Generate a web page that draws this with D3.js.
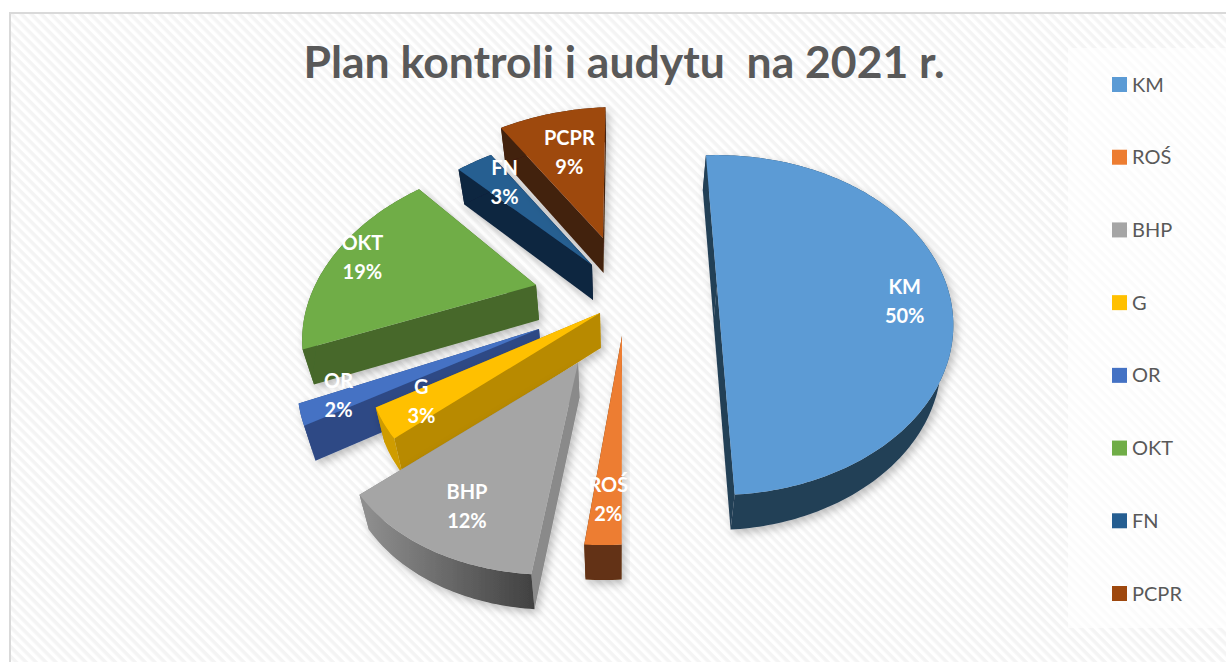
<!DOCTYPE html>
<html lang="pl">
<head>
<meta charset="utf-8">
<title>Plan kontroli i audytu na 2021 r.</title>
<script src="https://cdn.jsdelivr.net/npm/d3@7"></script>
<style>
html,body{margin:0;padding:0;background:#fff;overflow:hidden}
svg{display:block}
text{font-family:Lato,"Open Sans",sans-serif}
</style>
</head>
<body>
<div id="chart"></div>
<script>
// ---- data ----
const categories = ["KM","ROŚ","BHP","G","OR","OKT","FN","PCPR"];
const shares = [50,2,12,3,2,19,3,9];
const chartTitle = "Plan kontroli i audytu  na 2021 r.";

// ---- styling ----
const topColors  = ["#5b9bd5","#ed7d31","#a5a5a5","#ffc000","#4472c4","#70ad47","#255e91","#9e480e"];
const edgeColors = ["#243f56","#643314","#8a8a8a","#b88a00","#2f4a85","#46682b","#10253f","#42200a"];
const rimColors  = ["#243f56","#643314","url(#bhpRim)","#cf9c00","#2f4a85","#46682b","#10253f","#42200a"];

// ---- layout: how each slice is pulled out of the pie (px from pie centre) ----
const pullX = [92,-3,-47,-25,-86,-89,-33,-22];
const pullY = [6,56,83,33,49,5,-15,-42];
const sliceScale = [1,1,1.01,0.97,0.99,0.96,1,1];
const sliceTurn = [0,0,0,0,0,2.5,0,0];
const labelReach = [0.80,0.77,0.72,0.80,0.95,0.75,0.95,0.75];
const labelNudgeX = [6,0,-12,-5,27,-11,25,6];
const labelNudgeY = [24,13,21,0,-15,-8,17,13];
const drawOrder = [6,7,5,4,3,2,1,0];

const W = 1226, H = 662;
const pieCx = 625, pieCy = 280;
const radiusX = 230, radiusY = 161, perspective = 0.23;
const vanishX = 717, skew = 0.146;
const depth = 35, depthSkew = 0.036, depthOriginX = 620;
const startDeg = -3.4;

const svg = d3.select("#chart").append("svg").attr("width",W).attr("height",H);
const defs = svg.append("defs");

const hatch = defs.append("pattern").attr("id","hatch").attr("width",7).attr("height",7)
  .attr("patternUnits","userSpaceOnUse").attr("patternTransform","rotate(45)");
hatch.append("rect").attr("width",7).attr("height",7).attr("fill","#fff");
hatch.append("rect").attr("width",7).attr("height",3.5).attr("fill","#f4f4f4");

const rimGrad = defs.append("linearGradient").attr("id","bhpRim").attr("gradientUnits","userSpaceOnUse")
  .attr("x1",367).attr("x2",536).attr("y1",0).attr("y2",0);
rimGrad.append("stop").attr("offset",0).attr("stop-color","#8e8e8e");
rimGrad.append("stop").attr("offset",1).attr("stop-color","#404040");

const shadow = defs.append("filter").attr("id","soft").attr("x","-20%").attr("y","-20%").attr("width","140%").attr("height","140%");
shadow.append("feDropShadow").attr("dx",3).attr("dy",4).attr("stdDeviation",4)
  .attr("flood-color","#000").attr("flood-opacity",0.25);

// chart frame
svg.append("rect").attr("x",10).attr("y",13).attr("width",W).attr("height",H)
  .attr("fill","url(#hatch)").attr("stroke","#d9d9d9").attr("stroke-width",2);

// title
svg.append("text").attr("x",624).attr("y",78).attr("text-anchor","middle")
  .attr("font-size",44.5).attr("font-weight",700).attr("fill","#595959")
  .attr("xml:space","preserve").style("white-space","pre").text(chartTitle);

// pie geometry through d3.pie
const pie = d3.pie().sort(null)
  .startAngle(startDeg*Math.PI/180).endAngle((startDeg+360)*Math.PI/180);
const arcs = pie(shares);

const project = (i,theta,reach=1) => {
  const ax = pieCx+pullX[i], ay = pieCy+pullY[i];
  const u = Math.sin(theta)*reach, v = Math.cos(theta)*reach, w = 1+perspective*v;
  return [ax + radiusX*u/w + skew*(ax-vanishX)*(-v)/w, ay - radiusY*v/w];
};
const drop = p => [p[0]+(depthOriginX-p[0])*depthSkew, p[1]+depth];
const line = d3.line();

const slices = drawOrder.map(i => {
  const a = arcs[i];
  const steps = Math.max(4,Math.round((a.endAngle-a.startAngle)*60));
  const turn = sliceTurn[i]*Math.PI/180;
  const thetas = d3.range(steps+1).map(k => a.startAngle+turn+(a.endAngle-a.startAngle)*k/steps);
  const apex = [pieCx+pullX[i],pieCy+pullY[i]];
  const rim = thetas.map(t => project(i,t,sliceScale[i]));
  return {i,apex,rim,a};
});

const g = svg.selectAll("g.slice").data(slices).join("g").attr("class","slice").attr("filter","url(#soft)");

g.each(function(s){
  const sel = d3.select(this);
  const edges = [[s.apex,s.rim[0]],[s.apex,s.rim[s.rim.length-1]]]
    .sort((p,q)=>(p[0][1]+p[1][1])-(q[0][1]+q[1][1]));
  edges.forEach(e=>{
    sel.append("path").attr("d",line([e[0],e[1],drop(e[1]),drop(e[0])])+"Z")
      .attr("fill",edgeColors[s.i]);
  });
  const rimBand = s.rim.concat(s.rim.map(drop).reverse());
  sel.append("path").attr("d",line(rimBand)+"Z").attr("fill",rimColors[s.i]);
  sel.append("path").attr("d",line([s.apex].concat(s.rim))+"Z").attr("fill",topColors[s.i]);
});

// data labels
const labels = svg.selectAll("g.lab").data(arcs).join("g").attr("class","lab")
  .attr("transform",(d,i)=>{
    const p = project(i,(d.startAngle+d.endAngle)/2,labelReach[i]);
    return `translate(${p[0]+labelNudgeX[i]},${p[1]+labelNudgeY[i]})`;
  })
  .attr("text-anchor","middle").attr("fill","#fff").attr("font-size",20).attr("font-weight",700);
labels.append("text").attr("y",-8).text((d,i)=>categories[i]);
labels.append("text").attr("y",21).text(d=>d.value+"%");

// legend
const legendY = d3.scalePoint().domain(categories).range([77,586]);
svg.append("rect").attr("x",1068).attr("y",48).attr("width",158).attr("height",580)
  .attr("fill","#fff").attr("fill-opacity",0.65);
const leg = svg.selectAll("g.leg").data(categories).join("g").attr("class","leg")
  .attr("transform",d=>`translate(1112,${legendY(d)})`);
leg.append("rect").attr("width",15).attr("height",15).attr("fill",(d,i)=>topColors[i]);
leg.append("text").attr("x",20).attr("y",14.5).attr("font-size",20).attr("fill","#595959").text(d=>d);
</script>
</body>
</html>
